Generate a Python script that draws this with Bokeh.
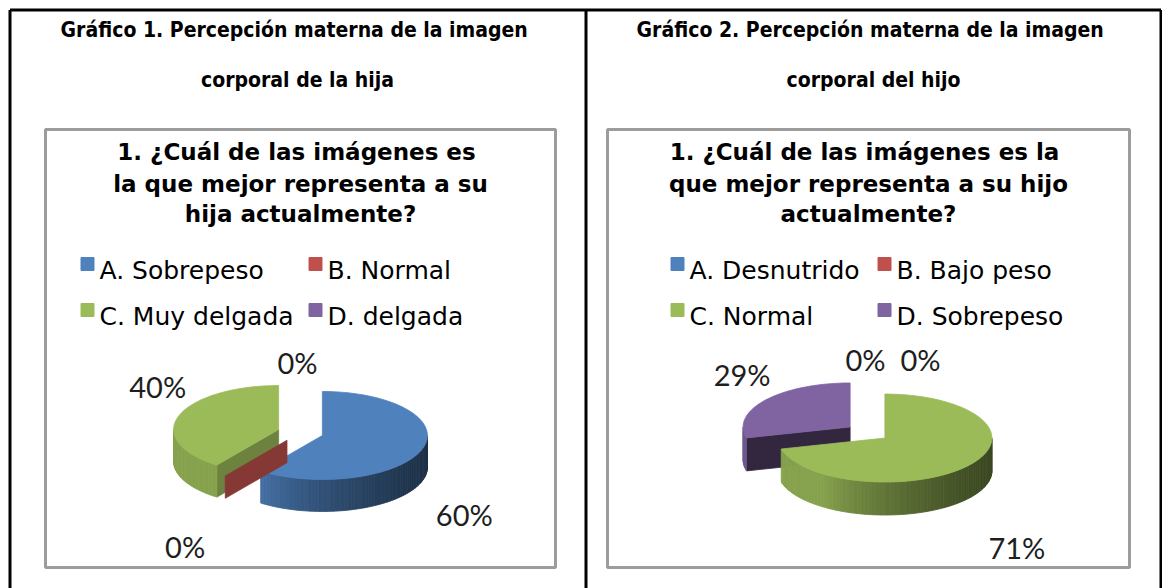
import numpy as np
from bokeh.plotting import figure
from bokeh.models import Range1d
from bokeh.core.properties import value
from bokeh.embed import file_html
from bokeh.resources import INLINE

# ---------------- data ----------------
header1 = ["Gráfico 1.  Percepción materna de la imagen", "corporal de la hija"]
header2 = ["Gráfico 2.  Percepción materna de la imagen", "corporal del hijo"]
title1 = ["1. ¿Cuál de las imágenes  es", "la que mejor representa a su", "hija actualmente?"]
title2 = ["1. ¿Cuál de las imágenes  es la", "que mejor representa a su hijo", "actualmente?"]
cats1 = ["A. Sobrepeso", "B. Normal", "C. Muy delgada", "D. delgada"]
vals1 = [60, 0, 40, 0]
cats2 = ["A. Desnutrido", "B. Bajo peso", "C. Normal", "D. Sobrepeso"]
vals2 = [0, 0, 71, 29]
colors = ["#4F81BD", "#C0504D", "#9BBB59", "#8064A2"]

# ---------------- layout / style ----------------
W, H = 1162, 588
p = figure(width=W, height=H, x_range=Range1d(0, W), y_range=Range1d(H, 0),
           output_backend="svg", toolbar_location=None, min_border=0,
           x_axis_location=None, y_axis_location=None)
p.grid.visible = False
p.outline_line_color = None
p.background_fill_color = "white"

# outer table frame
p.multi_line(xs=[[9.5, 1160.5], [9.5, 9.5], [585.5, 585.5], [1160.5, 1160.5]],
             ys=[[9.5, 9.5], [9.5, 590], [9.5, 590], [9.5, 590]],
             line_color="black", line_width=3)
# inner chart boxes
p.quad(left=[45, 607], right=[555, 1129], top=[129, 129], bottom=[567, 567],
       fill_color=None, line_color="#9c9c9c", line_width=3)

HFONT = value("DejaVu Sans Condensed")
TFONT = value("DejaVu Sans")
LFONT = value("Lato")


def hexrgb(h):
    return tuple(int(h[i:i + 2], 16) for i in (1, 3, 5))


def shade(h, f):
    return "#%02x%02x%02x" % tuple(int(max(0, min(255, c * f))) for c in hexrgb(h))


def draw_pie(vals, cols, cx, cy, rx, ry, depth, explode):
    total = float(sum(vals))
    edges = np.concatenate([[0.0], np.cumsum(np.array(vals) / total)]) * 2 * np.pi
    order = []
    for i in range(len(vals)):
        a0, a1 = edges[i], edges[i + 1]
        mid = (a0 + a1) / 2
        ox = cx + explode * np.sin(mid)
        oy = cy - explode * (ry / rx) * np.cos(mid)
        order.append((-np.cos(mid), i, a0, a1, mid, ox, oy))
    order.sort()
    xs, ys, fc = [], [], []
    mids = [None] * len(vals)
    for _, i, a0, a1, mid, ox, oy in order:
        mids[i] = mid
        col = cols[i]
        # radial cut faces
        for a, n in ((a0, a0 - np.pi / 2), (a1, a1 + np.pi / 2)):
            if -np.cos(n) > 0.05:
                px = ox + rx * np.sin(a)
                py = oy - ry * np.cos(a)
                d = depth if a1 > a0 else depth * 0.7
                xs.append([ox, px, px, ox])
                ys.append([oy, py, py + d, oy + d])
                nd = np.degrees(n) % 360
                fc.append(shade(col, float(np.clip(0.7 - 0.0076 * (nd - 126), 0.3, 0.9))))
        # outer curved side (front half only)
        s0, s1 = max(a0, np.pi / 2), min(a1, 3 * np.pi / 2)
        if s1 > s0:
            n = max(2, int(np.degrees(s1 - s0) / 2))
            ts = np.linspace(s0, s1, n + 1)
            for t0, t1 in zip(ts[:-1], ts[1:]):
                x0, x1 = ox + rx * np.sin(t0), ox + rx * np.sin(t1)
                y0, y1 = oy - ry * np.cos(t0), oy - ry * np.cos(t1)
                xs.append([x0, x1, x1, x0])
                ys.append([y0, y1, y1 + depth, y0 + depth])
                tm = np.degrees((t0 + t1) / 2)
                f = 0.38 + 0.49 * min(1.0, (tm - 90) / 126) ** 2
                fc.append(shade(col, f))
        # top face
        if a1 > a0:
            ts = np.linspace(a0, a1, max(3, int(np.degrees(a1 - a0) / 2)))
            xs.append([ox] + list(ox + rx * np.sin(ts)))
            ys.append([oy] + list(oy - ry * np.cos(ts)))
            fc.append(col)
    p.patches(xs=xs, ys=ys, fill_color=fc, line_color=fc, line_width=0.8)
    return mids


def pct_labels(vals, mids, cx, cy, rx, ry, nudges):
    lx = [cx + 1.4 * rx * np.sin(m) + d[0] for m, d in zip(mids, nudges)]
    ly = [cy - 1.4 * ry * np.cos(m) + d[1] for m, d in zip(mids, nudges)]
    txt = ["%d%%" % v for v in vals]
    p.text(x=lx, y=ly, text=txt, text_font=LFONT, text_font_size="29px",
           text_color="#1e1e1e", text_align="center", text_baseline="middle")


def panel(header, title, cats, vals, hx, tx, lsq, ltx, pie, nudges):
    p.text(x=[hx, hx], y=[29, 79], text=header, text_font=HFONT, text_font_size="21px",
           text_font_style="bold", text_color="black", text_align="center",
           text_baseline="alphabetic")
    p.text(x=[tx] * 3, y=[151, 183, 213], text=title, text_font=TFONT,
           text_font_size="23px", text_font_style="bold", text_color="black",
           text_align="center", text_baseline="alphabetic")
    sx = [lsq[0], lsq[1], lsq[0], lsq[1]]
    sy = [263.5, 263.5, 309.5, 309.5]
    p.scatter(x=sx, y=sy, marker="square", size=13, fill_color=colors,
              line_color=colors)
    p.text(x=[ltx[0], ltx[1], ltx[0], ltx[1]], y=[270, 270, 316, 316], text=cats,
           text_font=TFONT, text_font_size="25px", text_color="black",
           text_align="left", text_baseline="alphabetic")
    cx, cy, rx, ry, depth, ex = pie
    mids = draw_pie(vals, colors, cx, cy, rx, ry, depth, ex)
    pct_labels(vals, mids, cx, cy, rx, ry, nudges)


panel(header1, title1, cats1, vals1, 297, 300, (87, 315), (99, 327),
      (300, 432, 105, 44, 32, 23),
      [(24, 63), (-29, 64), (-3, -27), (-3, -8)])
panel(header2, title2, cats2, vals2, 873, 868, (677, 884), (689, 896),
      (867, 432, 107, 44, 33, 22),
      [(-2, -11), (53, -11), (31, 77), (-7, -20)])

open("out.html", "w").write(file_html(p, INLINE))
